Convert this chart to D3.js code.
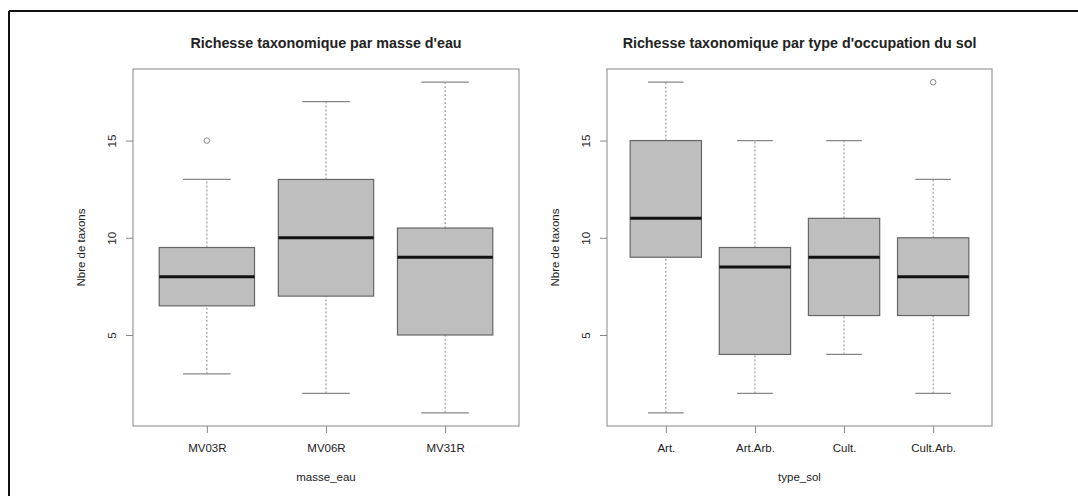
<!DOCTYPE html>
<html>
<head>
<meta charset="utf-8">
<script src="https://cdn.jsdelivr.net/npm/d3@7"></script>
<style>
  body { margin: 0; background: #fff; }
  text { font-family: "Liberation Sans", Arial, sans-serif; fill: #222; }
</style>
</head>
<body>
<svg width="1078" height="496"></svg>
<script>
// Left panel: richness by water body
const masseCats = ["MV03R", "MV06R", "MV31R"];
const masseLow = [3, 2, 1];
const masseQ1 = [6.5, 7, 5];
const masseMed = [8, 10, 9];
const masseQ3 = [9.5, 13, 10.5];
const masseHigh = [13, 17, 18];
const masseOut = [[15], [], []];

// Right panel: richness by land use
const solCats = ["Art.", "Art.Arb.", "Cult.", "Cult.Arb."];
const solLow = [1, 2, 4, 2];
const solQ1 = [9, 4, 6, 6];
const solMed = [11, 8.5, 9, 8];
const solQ3 = [15, 9.5, 11, 10];
const solHigh = [18, 15, 15, 13];
const solOut = [[], [], [], [18]];

const yTicks = [5, 10, 15];

const svg = d3.select("svg");

// outer frame (top and left only)
svg.append("line").attr("x1", 9).attr("x2", 1078).attr("y1", 11).attr("y2", 11)
  .attr("stroke", "#111").attr("stroke-width", 2);
svg.append("line").attr("x1", 9).attr("x2", 9).attr("y1", 11).attr("y2", 496)
  .attr("stroke", "#111").attr("stroke-width", 2);

function panel(opts) {
  const {left, right, top, bottom, cats, low, q1, med, q3, high, outs, title, xlab} = opts;
  const n = cats.length;
  const ext = 0.04 * n;
  const x = d3.scaleLinear().domain([0.5 - ext, n + 0.5 + ext]).range([left, right]);
  const y = d3.scaleLinear().domain([0.32, 18.68]).range([bottom, top]);

  const data = cats.map((c, i) => ({c, i: i + 1, low: low[i], q1: q1[i], med: med[i], q3: q3[i], high: high[i], outs: outs[i]}));
  const g = svg.append("g");

  // whiskers (dashed)
  g.selectAll(".wlo").data(data).enter().append("line")
    .attr("x1", d => x(d.i)).attr("x2", d => x(d.i))
    .attr("y1", d => y(d.low)).attr("y2", d => y(d.q1))
    .attr("stroke", "#888").attr("stroke-dasharray", "2,2");
  g.selectAll(".whi").data(data).enter().append("line")
    .attr("x1", d => x(d.i)).attr("x2", d => x(d.i))
    .attr("y1", d => y(d.q3)).attr("y2", d => y(d.high))
    .attr("stroke", "#888").attr("stroke-dasharray", "2,2");

  // staples
  [d => d.low, d => d.high].forEach(f => {
    g.selectAll(null).data(data).enter().append("line")
      .attr("x1", d => x(d.i - 0.2)).attr("x2", d => x(d.i + 0.2))
      .attr("y1", d => y(f(d))).attr("y2", d => y(f(d)))
      .attr("stroke", "#888").attr("stroke-width", 1.2);
  });

  // boxes
  g.selectAll(".box").data(data).enter().append("rect")
    .attr("x", d => x(d.i - 0.4)).attr("width", d => x(d.i + 0.4) - x(d.i - 0.4))
    .attr("y", d => y(d.q3)).attr("height", d => y(d.q1) - y(d.q3))
    .attr("fill", "#bebebe").attr("stroke", "#666").attr("stroke-width", 1.2);

  // medians
  g.selectAll(".med").data(data).enter().append("line")
    .attr("x1", d => x(d.i - 0.4)).attr("x2", d => x(d.i + 0.4))
    .attr("y1", d => y(d.med)).attr("y2", d => y(d.med))
    .attr("stroke", "#111").attr("stroke-width", 3);

  // outliers
  data.forEach(d => {
    g.selectAll(null).data(d.outs).enter().append("circle")
      .attr("cx", x(d.i)).attr("cy", v => y(v)).attr("r", 2.8)
      .attr("fill", "none").attr("stroke", "#888");
  });

  // plot frame
  g.append("rect").attr("x", left).attr("y", top)
    .attr("width", right - left).attr("height", bottom - top)
    .attr("fill", "none").attr("stroke", "#999").attr("stroke-width", 1.2);

  // y axis
  const ya = g.append("g").attr("transform", `translate(${left},0)`)
    .call(d3.axisLeft(y).tickValues(yTicks).tickSize(7).tickFormat(d3.format("d")));
  ya.select(".domain").remove();
  ya.selectAll(".tick line").attr("stroke", "#888");
  ya.selectAll(".tick text")
    .attr("x", null).attr("dy", null)
    .attr("transform", "translate(-17,0) rotate(-90)")
    .attr("text-anchor", "middle")
    .style("font-size", "11.5px").style("fill", "#222");

  // x axis
  const xa = g.append("g").attr("transform", `translate(0,${bottom})`)
    .call(d3.axisBottom(x).tickValues(d3.range(1, n + 1)).tickSize(7).tickFormat(i => cats[i - 1]));
  xa.select(".domain").remove();
  xa.selectAll(".tick line").attr("stroke", "#888");
  xa.selectAll(".tick text").attr("y", 18).attr("dy", "0.71em")
    .style("font-size", "11.5px").style("fill", "#222");

  // titles
  svg.append("text").attr("x", (left + right) / 2).attr("y", 48)
    .attr("text-anchor", "middle").style("font-size", "14.3px").style("font-weight", "bold")
    .text(title);
  svg.append("text").attr("x", (left + right) / 2).attr("y", bottom + 55)
    .attr("text-anchor", "middle").style("font-size", "11.5px").text(xlab);
  svg.append("text").attr("transform", `translate(${left - 48},${(top + bottom) / 2}) rotate(-90)`)
    .attr("text-anchor", "middle").style("font-size", "11.5px").text("Nbre de taxons");
}

panel({left: 133, right: 519, top: 69, bottom: 426,
  cats: masseCats, low: masseLow, q1: masseQ1, med: masseMed, q3: masseQ3, high: masseHigh, outs: masseOut,
  title: "Richesse taxonomique par masse d'eau", xlab: "masse_eau"});

panel({left: 607, right: 992, top: 69, bottom: 426,
  cats: solCats, low: solLow, q1: solQ1, med: solMed, q3: solQ3, high: solHigh, outs: solOut,
  title: "Richesse taxonomique par type d'occupation du sol", xlab: "type_sol"});
</script>
</body>
</html>
